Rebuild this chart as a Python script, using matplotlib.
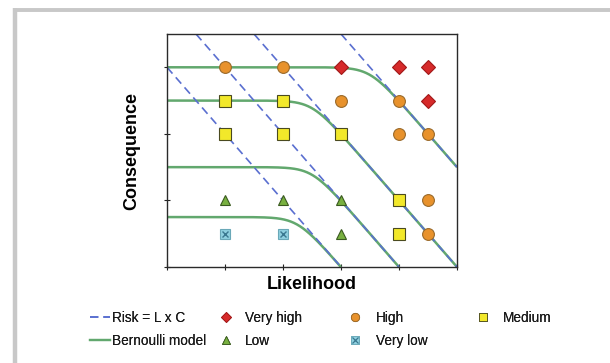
import numpy as np
import matplotlib
matplotlib.use("Agg")
import matplotlib.pyplot as plt
from matplotlib.lines import Line2D
from matplotlib.legend_handler import HandlerTuple

plt.rcParams['font.family'] = ['Liberation Sans', 'DejaVu Sans']

# ---- data ----
likelihood = [1, 2, 3, 4, 4.5]
consequence = [3, 2.5, 2, 1, 0.5]
risk_grid = [
    ["H", "H", "VH", "VH", "VH"],
    ["M", "M", "H", "H", "VH"],
    ["M", "M", "M", "H", "H"],
    ["L", "L", "L", "M", "H"],
    ["VL", "VL", "L", "M", "H"],
]
risk_constants = [3, 4, 5, 6.5]          # iso-risk lines: C = const - L
bernoulli_levels = [0.75, 1.5, 2.5, 3]   # plateau of each Bernoulli curve
bernoulli_intercepts = [3, 4, 5, 6.5]    # asymptotic line of each curve
x_max, y_max = 5, 3.5

styles = {
    "VH": dict(marker="D", ms=7.5, mfc="#d62a2a", mec="#a01818", label="Very high"),
    "H": dict(marker="o", ms=8.5, mfc="#e8922c", mec="#9a6a2a", label="High"),
    "M": dict(marker="s", ms=8, mfc="#f2e82a", mec="#4a4a20", label="Medium"),
    "L": dict(marker="^", ms=7.5, mfc="#78b040", mec="#3a5a20", label="Low"),
    "VL": dict(marker="s", ms=7, mfc="#8fd0e0", mec="#6aa8b8", label="Very low"),
}

fig = plt.figure(figsize=(6.1, 3.63), dpi=100)
fig.patch.set_facecolor("white")

# gray card border (left and top)
fig.add_artist(Line2D([14.5 / 610, 14.5 / 610], [0, 1 - 8 / 363], color="#c8c8c8", lw=3.2,
                      transform=fig.transFigure, solid_capstyle="butt"))
fig.add_artist(Line2D([12.8 / 610, 1], [1 - 9.5 / 363, 1 - 9.5 / 363], color="#c8c8c8", lw=2.8,
                      transform=fig.transFigure, solid_capstyle="butt"))

ax = fig.add_axes([167 / 610, 1 - 267 / 363, 290 / 610, 233 / 363])
ax.set_xlim(0, x_max)
ax.set_ylim(0, y_max)

green = "#62a86e"
blue = "#5a6fd0"

# Bernoulli model curves (smooth minimum of plateau and risk line)
k = 6.0
for a, c in zip(bernoulli_levels, bernoulli_intercepts):
    xs = np.linspace(0, min(c, x_max), 400)
    ys = -np.log(np.exp(-k * a) + np.exp(-k * (c - xs))) / k
    ax.plot(xs, ys, color=green, lw=1.8, zorder=2, solid_capstyle="butt")

# iso-risk dashed lines
for c in risk_constants:
    x0 = max(0, c - y_max)
    x1 = min(x_max, c)
    ax.plot([x0, x1], [c - x0, c - x1], color=blue, lw=1.2, ls=(0, (5, 3)), zorder=2.5)

# risk points
for yi, row in zip(consequence, risk_grid):
    for xi, cat in zip(likelihood, row):
        st = styles[cat]
        ax.plot([xi], [yi], ls="none", marker=st["marker"], ms=st["ms"], mfc=st["mfc"],
                mec=st["mec"], mew=0.8, zorder=3)
        if cat == "VL":
            ax.plot([xi], [yi], ls="none", marker="x", ms=4.5, mec="#3a7890", mew=1.0, zorder=3.5)

ax.set_xticks(range(0, 6))
ax.set_yticks(range(0, 4))
ax.set_xticklabels([])
ax.set_yticklabels([])
ax.tick_params(direction="inout", length=4, width=0.8, colors="#222222")
for s in ax.spines.values():
    s.set_color("#2a2a2a")
    s.set_linewidth(1.0)

ax.set_xlabel("Likelihood", fontsize=13, fontweight="bold", labelpad=1)
ax.set_ylabel("Consequence", fontsize=13, fontweight="bold", labelpad=14)

# ---- legend (four columns) ----
def mk(cat, scale=0.7):
    st = styles[cat]
    return Line2D([], [], ls="none", marker=st["marker"], ms=st["ms"] * scale, mfc=st["mfc"],
                  mec=st["mec"], mew=0.6)

vl_sq = mk("VL", scale=0.9)
vl_x = Line2D([], [], ls="none", marker="x", ms=4.5, mec="#3a7890", mew=0.9)

cols = [
    ([Line2D([], [], color=blue, lw=1.2, ls=(0, (5, 3))), Line2D([], [], color=green, lw=1.6)],
     ["Risk = L x C", "Bernoulli model"], 90, 0.15),
    ([mk("VH"), mk("L")], ["Very high", "Low"], 216, 0.7),
    ([mk("H"), (vl_sq, vl_x)], ["High", "Very low"], 345, 0.8),
    ([mk("M")], ["Medium"], 473, 0.75),
]
leg_top = 1 - 311 / 363
for handles, labels, xpx, pad in cols:
    lg = fig.legend(handles, labels, loc="upper left", bbox_to_anchor=(xpx / 610, leg_top),
                    bbox_transform=fig.transFigure, frameon=False, fontsize=9.8,
                    handlelength=1.45, handletextpad=pad, borderpad=0, borderaxespad=0,
                    labelspacing=0.64, handler_map={tuple: HandlerTuple(ndivide=1, pad=0)})
    for t in lg.get_texts():
        t.set_color("#1a1a1a")
    fig.add_artist(lg)

fig.savefig("out.png", dpi=100, facecolor="white")
